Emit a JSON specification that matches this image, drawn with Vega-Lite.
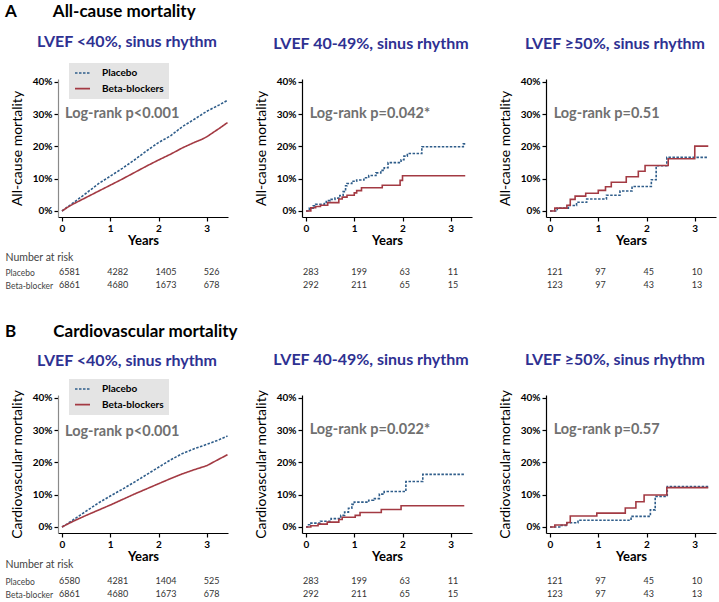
{
  "$schema": "https://vega.github.io/schema/vega-lite/v6.json",
  "padding": {"left": 5, "top": 3, "right": 2, "bottom": 0},
  "spacing": 31,
  "resolve": {"scale": {"color": "independent", "strokeDash": "independent"}, "legend": {"color": "independent", "strokeDash": "independent"}},
  "datasets": {
    "km": [
      {"panel":"A1","group":"Placebo","t":0,"p":0},{"panel":"A1","group":"Placebo","t":0.1,"p":0.011},{"panel":"A1","group":"Placebo","t":0.25,"p":0.027},{"panel":"A1","group":"Placebo","t":0.5,"p":0.055},{"panel":"A1","group":"Placebo","t":0.75,"p":0.084},{"panel":"A1","group":"Placebo","t":1,"p":0.108},{"panel":"A1","group":"Placebo","t":1.25,"p":0.132},{"panel":"A1","group":"Placebo","t":1.5,"p":0.158},{"panel":"A1","group":"Placebo","t":1.75,"p":0.186},{"panel":"A1","group":"Placebo","t":2,"p":0.212},{"panel":"A1","group":"Placebo","t":2.25,"p":0.233},{"panel":"A1","group":"Placebo","t":2.5,"p":0.262},{"panel":"A1","group":"Placebo","t":2.75,"p":0.285},{"panel":"A1","group":"Placebo","t":3,"p":0.309},{"panel":"A1","group":"Placebo","t":3.25,"p":0.328},{"panel":"A1","group":"Placebo","t":3.43,"p":0.343},
      {"panel":"A1","group":"Beta-blockers","t":0,"p":0},{"panel":"A1","group":"Beta-blockers","t":0.1,"p":0.01},{"panel":"A1","group":"Beta-blockers","t":0.25,"p":0.023},{"panel":"A1","group":"Beta-blockers","t":0.5,"p":0.042},{"panel":"A1","group":"Beta-blockers","t":0.75,"p":0.061},{"panel":"A1","group":"Beta-blockers","t":1,"p":0.08},{"panel":"A1","group":"Beta-blockers","t":1.25,"p":0.099},{"panel":"A1","group":"Beta-blockers","t":1.5,"p":0.119},{"panel":"A1","group":"Beta-blockers","t":1.75,"p":0.139},{"panel":"A1","group":"Beta-blockers","t":2,"p":0.158},{"panel":"A1","group":"Beta-blockers","t":2.25,"p":0.176},{"panel":"A1","group":"Beta-blockers","t":2.5,"p":0.196},{"panel":"A1","group":"Beta-blockers","t":2.75,"p":0.213},{"panel":"A1","group":"Beta-blockers","t":2.9,"p":0.222},{"panel":"A1","group":"Beta-blockers","t":3,"p":0.23},{"panel":"A1","group":"Beta-blockers","t":3.25,"p":0.255},{"panel":"A1","group":"Beta-blockers","t":3.43,"p":0.274},
      {"panel":"A2","group":"Placebo","t":0,"p":0},{"panel":"A2","group":"Placebo","t":0.07,"p":0.009},{"panel":"A2","group":"Placebo","t":0.15,"p":0.016},{"panel":"A2","group":"Placebo","t":0.2,"p":0.021},{"panel":"A2","group":"Placebo","t":0.38,"p":0.023},{"panel":"A2","group":"Placebo","t":0.42,"p":0.032},{"panel":"A2","group":"Placebo","t":0.5,"p":0.036},{"panel":"A2","group":"Placebo","t":0.6,"p":0.04},{"panel":"A2","group":"Placebo","t":0.7,"p":0.048},{"panel":"A2","group":"Placebo","t":0.77,"p":0.06},{"panel":"A2","group":"Placebo","t":0.82,"p":0.078},{"panel":"A2","group":"Placebo","t":0.85,"p":0.085},{"panel":"A2","group":"Placebo","t":0.95,"p":0.092},{"panel":"A2","group":"Placebo","t":1.05,"p":0.096},{"panel":"A2","group":"Placebo","t":1.2,"p":0.103},{"panel":"A2","group":"Placebo","t":1.3,"p":0.11},{"panel":"A2","group":"Placebo","t":1.45,"p":0.118},{"panel":"A2","group":"Placebo","t":1.55,"p":0.126},{"panel":"A2","group":"Placebo","t":1.62,"p":0.134},{"panel":"A2","group":"Placebo","t":1.7,"p":0.15},{"panel":"A2","group":"Placebo","t":1.97,"p":0.159},{"panel":"A2","group":"Placebo","t":2.03,"p":0.17},{"panel":"A2","group":"Placebo","t":2.1,"p":0.178},{"panel":"A2","group":"Placebo","t":2.4,"p":0.199},{"panel":"A2","group":"Placebo","t":3.26,"p":0.208},{"panel":"A2","group":"Placebo","t":3.3,"p":0.208},
      {"panel":"A2","group":"Beta-blockers","t":0,"p":0},{"panel":"A2","group":"Beta-blockers","t":0.1,"p":0.01},{"panel":"A2","group":"Beta-blockers","t":0.2,"p":0.014},{"panel":"A2","group":"Beta-blockers","t":0.3,"p":0.018},{"panel":"A2","group":"Beta-blockers","t":0.45,"p":0.026},{"panel":"A2","group":"Beta-blockers","t":0.68,"p":0.037},{"panel":"A2","group":"Beta-blockers","t":0.75,"p":0.043},{"panel":"A2","group":"Beta-blockers","t":0.85,"p":0.049},{"panel":"A2","group":"Beta-blockers","t":1,"p":0.056},{"panel":"A2","group":"Beta-blockers","t":1.05,"p":0.063},{"panel":"A2","group":"Beta-blockers","t":1.15,"p":0.072},{"panel":"A2","group":"Beta-blockers","t":1.58,"p":0.08},{"panel":"A2","group":"Beta-blockers","t":1.95,"p":0.095},{"panel":"A2","group":"Beta-blockers","t":2,"p":0.109},{"panel":"A2","group":"Beta-blockers","t":3.3,"p":0.109},
      {"panel":"A3","group":"Placebo","t":0,"p":0},{"panel":"A3","group":"Placebo","t":0.15,"p":0.009},{"panel":"A3","group":"Placebo","t":0.38,"p":0.017},{"panel":"A3","group":"Placebo","t":0.55,"p":0.027},{"panel":"A3","group":"Placebo","t":0.76,"p":0.037},{"panel":"A3","group":"Placebo","t":1.17,"p":0.049},{"panel":"A3","group":"Placebo","t":1.45,"p":0.062},{"panel":"A3","group":"Placebo","t":1.7,"p":0.076},{"panel":"A3","group":"Placebo","t":2.1,"p":0.097},{"panel":"A3","group":"Placebo","t":2.2,"p":0.14},{"panel":"A3","group":"Placebo","t":2.42,"p":0.166},{"panel":"A3","group":"Placebo","t":3.28,"p":0.166},
      {"panel":"A3","group":"Beta-blockers","t":0,"p":0},{"panel":"A3","group":"Beta-blockers","t":0.1,"p":0.009},{"panel":"A3","group":"Beta-blockers","t":0.35,"p":0.018},{"panel":"A3","group":"Beta-blockers","t":0.42,"p":0.036},{"panel":"A3","group":"Beta-blockers","t":0.52,"p":0.046},{"panel":"A3","group":"Beta-blockers","t":0.74,"p":0.055},{"panel":"A3","group":"Beta-blockers","t":1,"p":0.064},{"panel":"A3","group":"Beta-blockers","t":1.15,"p":0.075},{"panel":"A3","group":"Beta-blockers","t":1.27,"p":0.089},{"panel":"A3","group":"Beta-blockers","t":1.58,"p":0.106},{"panel":"A3","group":"Beta-blockers","t":1.83,"p":0.123},{"panel":"A3","group":"Beta-blockers","t":1.97,"p":0.141},{"panel":"A3","group":"Beta-blockers","t":2.45,"p":0.162},{"panel":"A3","group":"Beta-blockers","t":3,"p":0.201},{"panel":"A3","group":"Beta-blockers","t":3.28,"p":0.201},
      {"panel":"B1","group":"Placebo","t":0,"p":0},{"panel":"B1","group":"Placebo","t":0.1,"p":0.009},{"panel":"B1","group":"Placebo","t":0.25,"p":0.024},{"panel":"B1","group":"Placebo","t":0.5,"p":0.049},{"panel":"B1","group":"Placebo","t":0.75,"p":0.074},{"panel":"B1","group":"Placebo","t":1,"p":0.096},{"panel":"B1","group":"Placebo","t":1.25,"p":0.117},{"panel":"B1","group":"Placebo","t":1.5,"p":0.139},{"panel":"B1","group":"Placebo","t":1.75,"p":0.162},{"panel":"B1","group":"Placebo","t":2,"p":0.185},{"panel":"B1","group":"Placebo","t":2.25,"p":0.208},{"panel":"B1","group":"Placebo","t":2.5,"p":0.228},{"panel":"B1","group":"Placebo","t":2.75,"p":0.243},{"panel":"B1","group":"Placebo","t":3,"p":0.256},{"panel":"B1","group":"Placebo","t":3.25,"p":0.27},{"panel":"B1","group":"Placebo","t":3.43,"p":0.282},
      {"panel":"B1","group":"Beta-blockers","t":0,"p":0},{"panel":"B1","group":"Beta-blockers","t":0.1,"p":0.008},{"panel":"B1","group":"Beta-blockers","t":0.25,"p":0.019},{"panel":"B1","group":"Beta-blockers","t":0.5,"p":0.036},{"panel":"B1","group":"Beta-blockers","t":0.75,"p":0.052},{"panel":"B1","group":"Beta-blockers","t":1,"p":0.068},{"panel":"B1","group":"Beta-blockers","t":1.25,"p":0.085},{"panel":"B1","group":"Beta-blockers","t":1.5,"p":0.102},{"panel":"B1","group":"Beta-blockers","t":1.75,"p":0.118},{"panel":"B1","group":"Beta-blockers","t":2,"p":0.134},{"panel":"B1","group":"Beta-blockers","t":2.25,"p":0.15},{"panel":"B1","group":"Beta-blockers","t":2.5,"p":0.165},{"panel":"B1","group":"Beta-blockers","t":2.75,"p":0.178},{"panel":"B1","group":"Beta-blockers","t":3,"p":0.19},{"panel":"B1","group":"Beta-blockers","t":3.25,"p":0.21},{"panel":"B1","group":"Beta-blockers","t":3.43,"p":0.224},
      {"panel":"B2","group":"Placebo","t":0,"p":0},{"panel":"B2","group":"Placebo","t":0.03,"p":0.007},{"panel":"B2","group":"Placebo","t":0.08,"p":0.012},{"panel":"B2","group":"Placebo","t":0.3,"p":0.018},{"panel":"B2","group":"Placebo","t":0.52,"p":0.026},{"panel":"B2","group":"Placebo","t":0.72,"p":0.036},{"panel":"B2","group":"Placebo","t":0.8,"p":0.046},{"panel":"B2","group":"Placebo","t":0.88,"p":0.058},{"panel":"B2","group":"Placebo","t":0.95,"p":0.07},{"panel":"B2","group":"Placebo","t":1,"p":0.077},{"panel":"B2","group":"Placebo","t":1.3,"p":0.083},{"panel":"B2","group":"Placebo","t":1.4,"p":0.088},{"panel":"B2","group":"Placebo","t":1.52,"p":0.102},{"panel":"B2","group":"Placebo","t":1.62,"p":0.11},{"panel":"B2","group":"Placebo","t":2.07,"p":0.141},{"panel":"B2","group":"Placebo","t":2.42,"p":0.163},{"panel":"B2","group":"Placebo","t":3.28,"p":0.163},
      {"panel":"B2","group":"Beta-blockers","t":0,"p":0},{"panel":"B2","group":"Beta-blockers","t":0.1,"p":0.004},{"panel":"B2","group":"Beta-blockers","t":0.25,"p":0.009},{"panel":"B2","group":"Beta-blockers","t":0.44,"p":0.015},{"panel":"B2","group":"Beta-blockers","t":0.68,"p":0.023},{"panel":"B2","group":"Beta-blockers","t":0.75,"p":0.03},{"panel":"B2","group":"Beta-blockers","t":1.02,"p":0.036},{"panel":"B2","group":"Beta-blockers","t":1.12,"p":0.045},{"panel":"B2","group":"Beta-blockers","t":1.56,"p":0.054},{"panel":"B2","group":"Beta-blockers","t":1.97,"p":0.066},{"panel":"B2","group":"Beta-blockers","t":3.28,"p":0.066},
      {"panel":"B3","group":"Placebo","t":0,"p":0},{"panel":"B3","group":"Placebo","t":0.2,"p":0.005},{"panel":"B3","group":"Placebo","t":0.35,"p":0.013},{"panel":"B3","group":"Placebo","t":0.58,"p":0.021},{"panel":"B3","group":"Placebo","t":1.68,"p":0.033},{"panel":"B3","group":"Placebo","t":2.08,"p":0.053},{"panel":"B3","group":"Placebo","t":2.18,"p":0.095},{"panel":"B3","group":"Placebo","t":2.43,"p":0.125},{"panel":"B3","group":"Placebo","t":3.28,"p":0.125},
      {"panel":"B3","group":"Beta-blockers","t":0,"p":0},{"panel":"B3","group":"Beta-blockers","t":0.1,"p":0.006},{"panel":"B3","group":"Beta-blockers","t":0.35,"p":0.014},{"panel":"B3","group":"Beta-blockers","t":0.42,"p":0.034},{"panel":"B3","group":"Beta-blockers","t":0.97,"p":0.043},{"panel":"B3","group":"Beta-blockers","t":1.56,"p":0.059},{"panel":"B3","group":"Beta-blockers","t":1.78,"p":0.078},{"panel":"B3","group":"Beta-blockers","t":1.95,"p":0.099},{"panel":"B3","group":"Beta-blockers","t":2.42,"p":0.122},{"panel":"B3","group":"Beta-blockers","t":3.28,"p":0.122}
    ],
    "risk": [
      {"panel":"A1","group":"Placebo","t":0,"n":6581},{"panel":"A1","group":"Placebo","t":1,"n":4282},{"panel":"A1","group":"Placebo","t":2,"n":1405},{"panel":"A1","group":"Placebo","t":3,"n":526},
      {"panel":"A1","group":"Beta-blocker","t":0,"n":6861},{"panel":"A1","group":"Beta-blocker","t":1,"n":4680},{"panel":"A1","group":"Beta-blocker","t":2,"n":1673},{"panel":"A1","group":"Beta-blocker","t":3,"n":678},
      {"panel":"A2","group":"Placebo","t":0,"n":283},{"panel":"A2","group":"Placebo","t":1,"n":199},{"panel":"A2","group":"Placebo","t":2,"n":63},{"panel":"A2","group":"Placebo","t":3,"n":11},
      {"panel":"A2","group":"Beta-blocker","t":0,"n":292},{"panel":"A2","group":"Beta-blocker","t":1,"n":211},{"panel":"A2","group":"Beta-blocker","t":2,"n":65},{"panel":"A2","group":"Beta-blocker","t":3,"n":15},
      {"panel":"A3","group":"Placebo","t":0,"n":121},{"panel":"A3","group":"Placebo","t":1,"n":97},{"panel":"A3","group":"Placebo","t":2,"n":45},{"panel":"A3","group":"Placebo","t":3,"n":10},
      {"panel":"A3","group":"Beta-blocker","t":0,"n":123},{"panel":"A3","group":"Beta-blocker","t":1,"n":97},{"panel":"A3","group":"Beta-blocker","t":2,"n":43},{"panel":"A3","group":"Beta-blocker","t":3,"n":13},
      {"panel":"B1","group":"Placebo","t":0,"n":6580},{"panel":"B1","group":"Placebo","t":1,"n":4281},{"panel":"B1","group":"Placebo","t":2,"n":1404},{"panel":"B1","group":"Placebo","t":3,"n":525},
      {"panel":"B1","group":"Beta-blocker","t":0,"n":6861},{"panel":"B1","group":"Beta-blocker","t":1,"n":4680},{"panel":"B1","group":"Beta-blocker","t":2,"n":1673},{"panel":"B1","group":"Beta-blocker","t":3,"n":678},
      {"panel":"B2","group":"Placebo","t":0,"n":283},{"panel":"B2","group":"Placebo","t":1,"n":199},{"panel":"B2","group":"Placebo","t":2,"n":63},{"panel":"B2","group":"Placebo","t":3,"n":11},
      {"panel":"B2","group":"Beta-blocker","t":0,"n":292},{"panel":"B2","group":"Beta-blocker","t":1,"n":211},{"panel":"B2","group":"Beta-blocker","t":2,"n":65},{"panel":"B2","group":"Beta-blocker","t":3,"n":15},
      {"panel":"B3","group":"Placebo","t":0,"n":121},{"panel":"B3","group":"Placebo","t":1,"n":97},{"panel":"B3","group":"Placebo","t":2,"n":45},{"panel":"B3","group":"Placebo","t":3,"n":10},
      {"panel":"B3","group":"Beta-blocker","t":0,"n":123},{"panel":"B3","group":"Beta-blocker","t":1,"n":97},{"panel":"B3","group":"Beta-blocker","t":2,"n":43},{"panel":"B3","group":"Beta-blocker","t":3,"n":13}
    ]
  },
  "vconcat": [
    {
      "title": {"text": "A\u00a0\u00a0\u00a0\u00a0\u00a0\u00a0\u00a0\u00a0\u00a0All-cause mortality", "anchor": "start", "frame": "bounds", "font": "Lato", "fontSize": 17, "fontWeight": "bold", "color": "#000000", "offset": 13, "dx": 0},
      "columns": 3,
      "bounds": "flush",
      "spacing": {"row": 48.5, "column": 74},
      "resolve": {"scale": {"color": "independent", "strokeDash": "independent"}, "legend": {"color": "independent", "strokeDash": "independent"}},
      "concat": [
        {
          "width": 170, "height": 138,
          "title": {"text": "LVEF <40%, sinus rhythm", "offset": 13},
          "layer": [
            {
              "data": {"name": "km"},
              "transform": [{"filter": "datum.panel == 'A1'"}],
              "mark": {"type": "line", "interpolate": "linear", "strokeWidth": 1.6},
              "encoding": {
                "x": {"field": "t", "type": "quantitative", "scale": {"domain": [-0.083, 3.44], "nice": false, "zero": false}, "axis": {"values": [0, 1, 2, 3], "format": "d", "title": "Years"}},
                "y": {"field": "p", "type": "quantitative", "scale": {"domain": [-0.0186, 0.409], "nice": false, "zero": false}, "axis": {"values": [0, 0.1, 0.2, 0.3, 0.4], "tickCount": 10, "format": ".0%", "title": "All-cause mortality", "domainColor": "#8a8a8a"}},
                "color": {"field": "group", "type": "nominal", "scale": {"domain": ["Placebo", "Beta-blockers"], "range": ["#2f5d8a", "#a33a43"]}, "legend": {"orient": "none", "legendX": 11, "legendY": -16, "title": null, "fillColor": "#e4e4e4", "padding": 5, "symbolType": "stroke", "symbolSize": 225, "symbolStrokeWidth": 1.6, "clipHeight": 10, "rowPadding": 5.6, "labelOffset": 11, "labelFont": "Lato", "labelFontWeight": "bold", "labelFontSize": 10, "labelColor": "#000000"}},
                "strokeDash": {"field": "group", "type": "nominal", "scale": {"domain": ["Placebo", "Beta-blockers"], "range": [[2.5, 1.5], [1, 0]]}, "legend": {"orient": "none", "legendX": 11, "legendY": -16, "title": null, "fillColor": "#e4e4e4", "padding": 5, "symbolType": "stroke", "symbolSize": 225, "symbolStrokeWidth": 1.6, "clipHeight": 10, "rowPadding": 5.6, "labelOffset": 11, "labelFont": "Lato", "labelFontWeight": "bold", "labelFontSize": 10, "labelColor": "#000000"}}
              }
            },
            {
              "data": {"values": [{"label": "Log-rank p<0.001"}]},
              "mark": {"type": "text", "align": "left", "baseline": "middle", "font": "Lato", "fontWeight": "bold", "fontSize": 14.5, "color": "#707070"},
              "encoding": {"x": {"datum": 0.062}, "y": {"datum": 0.3}, "text": {"field": "label"}}
            }
          ]
        },
        {
          "width": 170, "height": 138,
          "title": {"text": "LVEF 40-49%, sinus rhythm", "offset": 25},
          "layer": [
            {
              "data": {"name": "km"},
              "transform": [{"filter": "datum.panel == 'A2'"}],
              "mark": {"type": "line", "interpolate": "step-after", "strokeWidth": 1.6},
              "encoding": {
                "x": {"field": "t", "type": "quantitative", "scale": {"domain": [-0.083, 3.44], "nice": false, "zero": false}, "axis": {"values": [0, 1, 2, 3], "format": "d", "title": "Years"}},
                "y": {"field": "p", "type": "quantitative", "scale": {"domain": [-0.0186, 0.409], "nice": false, "zero": false}, "axis": {"values": [0, 0.1, 0.2, 0.3, 0.4], "tickCount": 10, "format": ".0%", "title": "All-cause mortality"}},
                "color": {"field": "group", "type": "nominal", "scale": {"domain": ["Placebo", "Beta-blockers"], "range": ["#2f5d8a", "#a33a43"]}, "legend": null},
                "strokeDash": {"field": "group", "type": "nominal", "scale": {"domain": ["Placebo", "Beta-blockers"], "range": [[2.5, 1.5], [1, 0]]}, "legend": null}
              }
            },
            {
              "data": {"values": [{"label": "Log-rank p=0.042*"}]},
              "mark": {"type": "text", "align": "left", "baseline": "middle", "font": "Lato", "fontWeight": "bold", "fontSize": 14.5, "color": "#707070"},
              "encoding": {"x": {"datum": 0.076}, "y": {"datum": 0.3}, "text": {"field": "label"}}
            }
          ]
        },
        {
          "width": 170, "height": 138,
          "title": {"text": "LVEF ≥50%, sinus rhythm", "offset": 25},
          "layer": [
            {
              "data": {"name": "km"},
              "transform": [{"filter": "datum.panel == 'A3'"}],
              "mark": {"type": "line", "interpolate": "step-after", "strokeWidth": 1.6},
              "encoding": {
                "x": {"field": "t", "type": "quantitative", "scale": {"domain": [-0.083, 3.44], "nice": false, "zero": false}, "axis": {"values": [0, 1, 2, 3], "format": "d", "title": "Years"}},
                "y": {"field": "p", "type": "quantitative", "scale": {"domain": [-0.0186, 0.409], "nice": false, "zero": false}, "axis": {"values": [0, 0.1, 0.2, 0.3, 0.4], "tickCount": 10, "format": ".0%", "title": "All-cause mortality"}},
                "color": {"field": "group", "type": "nominal", "scale": {"domain": ["Placebo", "Beta-blockers"], "range": ["#2f5d8a", "#a33a43"]}, "legend": null},
                "strokeDash": {"field": "group", "type": "nominal", "scale": {"domain": ["Placebo", "Beta-blockers"], "range": [[2.5, 1.5], [1, 0]]}, "legend": null}
              }
            },
            {
              "data": {"values": [{"label": "Log-rank p=0.51"}]},
              "mark": {"type": "text", "align": "left", "baseline": "middle", "font": "Lato", "fontWeight": "bold", "fontSize": 14.5, "color": "#707070"},
              "encoding": {"x": {"datum": 0.076}, "y": {"datum": 0.3}, "text": {"field": "label"}}
            }
          ]
        },
        {
          "width": 170, "height": 26,
          "data": {"name": "risk"},
          "transform": [{"filter": "datum.panel == 'A1'"}],
          "mark": {"type": "text", "align": "left", "baseline": "middle", "dx": -3, "font": "Lato", "fontSize": 9, "color": "#333333"},
          "encoding": {
            "x": {"field": "t", "type": "quantitative", "scale": {"domain": [-0.083, 3.44], "nice": false, "zero": false}, "axis": null},
            "y": {"field": "group", "type": "nominal", "scale": {"type": "point", "domain": ["Placebo", "Beta-blocker"], "padding": 0.5}, "axis": {"title": "Number at risk", "titleAngle": 0, "titleAlign": "left", "titleBaseline": "middle", "titleX": -53, "titleY": -8.5, "titleFont": "Lato", "titleFontSize": 10.5, "titleFontWeight": "normal", "titleColor": "#444444", "labelAlign": "left", "labelPadding": 53, "labelFont": "Lato", "labelFontWeight": "normal", "labelFontSize": 8.5, "labelColor": "#444444", "domain": false, "ticks": false, "tickSize": 0}},
            "text": {"field": "n", "type": "quantitative", "format": "d"}
          }
        },
        {
          "width": 170, "height": 26,
          "data": {"name": "risk"},
          "transform": [{"filter": "datum.panel == 'A2'"}],
          "mark": {"type": "text", "align": "left", "baseline": "middle", "dx": -3, "font": "Lato", "fontSize": 9, "color": "#333333"},
          "encoding": {
            "x": {"field": "t", "type": "quantitative", "scale": {"domain": [-0.083, 3.44], "nice": false, "zero": false}, "axis": null},
            "y": {"field": "group", "type": "nominal", "scale": {"type": "point", "domain": ["Placebo", "Beta-blocker"], "padding": 0.5}, "axis": null},
            "text": {"field": "n", "type": "quantitative", "format": "d"}
          }
        },
        {
          "width": 170, "height": 26,
          "data": {"name": "risk"},
          "transform": [{"filter": "datum.panel == 'A3'"}],
          "mark": {"type": "text", "align": "left", "baseline": "middle", "dx": -3, "font": "Lato", "fontSize": 9, "color": "#333333"},
          "encoding": {
            "x": {"field": "t", "type": "quantitative", "scale": {"domain": [-0.083, 3.44], "nice": false, "zero": false}, "axis": null},
            "y": {"field": "group", "type": "nominal", "scale": {"type": "point", "domain": ["Placebo", "Beta-blocker"], "padding": 0.5}, "axis": null},
            "text": {"field": "n", "type": "quantitative", "format": "d"}
          }
        }
      ]
    },
    {
      "title": {"text": "B\u00a0\u00a0\u00a0\u00a0\u00a0\u00a0\u00a0\u00a0\u00a0Cardiovascular mortality", "anchor": "start", "frame": "bounds", "font": "Lato", "fontSize": 17, "fontWeight": "bold", "color": "#000000", "offset": 11, "dx": 0},
      "columns": 3,
      "bounds": "flush",
      "spacing": {"row": 41.5, "column": 74},
      "resolve": {"scale": {"color": "independent", "strokeDash": "independent"}, "legend": {"color": "independent", "strokeDash": "independent"}},
      "concat": [
        {
          "width": 170, "height": 138,
          "title": {"text": "LVEF <40%, sinus rhythm", "offset": 10},
          "layer": [
            {
              "data": {"name": "km"},
              "transform": [{"filter": "datum.panel == 'B1'"}],
              "mark": {"type": "line", "interpolate": "linear", "strokeWidth": 1.6},
              "encoding": {
                "x": {"field": "t", "type": "quantitative", "scale": {"domain": [-0.083, 3.44], "nice": false, "zero": false}, "axis": {"values": [0, 1, 2, 3], "format": "d", "title": "Years"}},
                "y": {"field": "p", "type": "quantitative", "scale": {"domain": [-0.0186, 0.409], "nice": false, "zero": false}, "axis": {"values": [0, 0.1, 0.2, 0.3, 0.4], "tickCount": 10, "format": ".0%", "title": "Cardiovascular mortality", "domainColor": "#8a8a8a"}},
                "color": {"field": "group", "type": "nominal", "scale": {"domain": ["Placebo", "Beta-blockers"], "range": ["#2f5d8a", "#a33a43"]}, "legend": {"orient": "none", "legendX": 11, "legendY": -16, "title": null, "fillColor": "#e4e4e4", "padding": 5, "symbolType": "stroke", "symbolSize": 225, "symbolStrokeWidth": 1.6, "clipHeight": 10, "rowPadding": 5.6, "labelOffset": 11, "labelFont": "Lato", "labelFontWeight": "bold", "labelFontSize": 10, "labelColor": "#000000"}},
                "strokeDash": {"field": "group", "type": "nominal", "scale": {"domain": ["Placebo", "Beta-blockers"], "range": [[2.5, 1.5], [1, 0]]}, "legend": {"orient": "none", "legendX": 11, "legendY": -16, "title": null, "fillColor": "#e4e4e4", "padding": 5, "symbolType": "stroke", "symbolSize": 225, "symbolStrokeWidth": 1.6, "clipHeight": 10, "rowPadding": 5.6, "labelOffset": 11, "labelFont": "Lato", "labelFontWeight": "bold", "labelFontSize": 10, "labelColor": "#000000"}}
              }
            },
            {
              "data": {"values": [{"label": "Log-rank p<0.001"}]},
              "mark": {"type": "text", "align": "left", "baseline": "middle", "font": "Lato", "fontWeight": "bold", "fontSize": 14.5, "color": "#707070"},
              "encoding": {"x": {"datum": 0.062}, "y": {"datum": 0.293}, "text": {"field": "label"}}
            }
          ]
        },
        {
          "width": 170, "height": 138,
          "title": {"text": "LVEF 40-49%, sinus rhythm", "offset": 21},
          "layer": [
            {
              "data": {"name": "km"},
              "transform": [{"filter": "datum.panel == 'B2'"}],
              "mark": {"type": "line", "interpolate": "step-after", "strokeWidth": 1.6},
              "encoding": {
                "x": {"field": "t", "type": "quantitative", "scale": {"domain": [-0.083, 3.44], "nice": false, "zero": false}, "axis": {"values": [0, 1, 2, 3], "format": "d", "title": "Years"}},
                "y": {"field": "p", "type": "quantitative", "scale": {"domain": [-0.0186, 0.409], "nice": false, "zero": false}, "axis": {"values": [0, 0.1, 0.2, 0.3, 0.4], "tickCount": 10, "format": ".0%", "title": "Cardiovascular mortality"}},
                "color": {"field": "group", "type": "nominal", "scale": {"domain": ["Placebo", "Beta-blockers"], "range": ["#2f5d8a", "#a33a43"]}, "legend": null},
                "strokeDash": {"field": "group", "type": "nominal", "scale": {"domain": ["Placebo", "Beta-blockers"], "range": [[2.5, 1.5], [1, 0]]}, "legend": null}
              }
            },
            {
              "data": {"values": [{"label": "Log-rank p=0.022*"}]},
              "mark": {"type": "text", "align": "left", "baseline": "middle", "font": "Lato", "fontWeight": "bold", "fontSize": 14.5, "color": "#707070"},
              "encoding": {"x": {"datum": 0.076}, "y": {"datum": 0.3}, "text": {"field": "label"}}
            }
          ]
        },
        {
          "width": 170, "height": 138,
          "title": {"text": "LVEF ≥50%, sinus rhythm", "offset": 21},
          "layer": [
            {
              "data": {"name": "km"},
              "transform": [{"filter": "datum.panel == 'B3'"}],
              "mark": {"type": "line", "interpolate": "step-after", "strokeWidth": 1.6},
              "encoding": {
                "x": {"field": "t", "type": "quantitative", "scale": {"domain": [-0.083, 3.44], "nice": false, "zero": false}, "axis": {"values": [0, 1, 2, 3], "format": "d", "title": "Years"}},
                "y": {"field": "p", "type": "quantitative", "scale": {"domain": [-0.0186, 0.409], "nice": false, "zero": false}, "axis": {"values": [0, 0.1, 0.2, 0.3, 0.4], "tickCount": 10, "format": ".0%", "title": "Cardiovascular mortality"}},
                "color": {"field": "group", "type": "nominal", "scale": {"domain": ["Placebo", "Beta-blockers"], "range": ["#2f5d8a", "#a33a43"]}, "legend": null},
                "strokeDash": {"field": "group", "type": "nominal", "scale": {"domain": ["Placebo", "Beta-blockers"], "range": [[2.5, 1.5], [1, 0]]}, "legend": null}
              }
            },
            {
              "data": {"values": [{"label": "Log-rank p=0.57"}]},
              "mark": {"type": "text", "align": "left", "baseline": "middle", "font": "Lato", "fontWeight": "bold", "fontSize": 14.5, "color": "#707070"},
              "encoding": {"x": {"datum": 0.076}, "y": {"datum": 0.3}, "text": {"field": "label"}}
            }
          ]
        },
        {
          "width": 170, "height": 26,
          "data": {"name": "risk"},
          "transform": [{"filter": "datum.panel == 'B1'"}],
          "mark": {"type": "text", "align": "left", "baseline": "middle", "dx": -3, "font": "Lato", "fontSize": 9, "color": "#333333"},
          "encoding": {
            "x": {"field": "t", "type": "quantitative", "scale": {"domain": [-0.083, 3.44], "nice": false, "zero": false}, "axis": null},
            "y": {"field": "group", "type": "nominal", "scale": {"type": "point", "domain": ["Placebo", "Beta-blocker"], "padding": 0.5}, "axis": {"title": "Number at risk", "titleAngle": 0, "titleAlign": "left", "titleBaseline": "middle", "titleX": -53, "titleY": -10.5, "titleFont": "Lato", "titleFontSize": 10.5, "titleFontWeight": "normal", "titleColor": "#444444", "labelAlign": "left", "labelPadding": 53, "labelFont": "Lato", "labelFontWeight": "normal", "labelFontSize": 8.5, "labelColor": "#444444", "domain": false, "ticks": false, "tickSize": 0}},
            "text": {"field": "n", "type": "quantitative", "format": "d"}
          }
        },
        {
          "width": 170, "height": 26,
          "data": {"name": "risk"},
          "transform": [{"filter": "datum.panel == 'B2'"}],
          "mark": {"type": "text", "align": "left", "baseline": "middle", "dx": -3, "font": "Lato", "fontSize": 9, "color": "#333333"},
          "encoding": {
            "x": {"field": "t", "type": "quantitative", "scale": {"domain": [-0.083, 3.44], "nice": false, "zero": false}, "axis": null},
            "y": {"field": "group", "type": "nominal", "scale": {"type": "point", "domain": ["Placebo", "Beta-blocker"], "padding": 0.5}, "axis": null},
            "text": {"field": "n", "type": "quantitative", "format": "d"}
          }
        },
        {
          "width": 170, "height": 26,
          "data": {"name": "risk"},
          "transform": [{"filter": "datum.panel == 'B3'"}],
          "mark": {"type": "text", "align": "left", "baseline": "middle", "dx": -3, "font": "Lato", "fontSize": 9, "color": "#333333"},
          "encoding": {
            "x": {"field": "t", "type": "quantitative", "scale": {"domain": [-0.083, 3.44], "nice": false, "zero": false}, "axis": null},
            "y": {"field": "group", "type": "nominal", "scale": {"type": "point", "domain": ["Placebo", "Beta-blocker"], "padding": 0.5}, "axis": null},
            "text": {"field": "n", "type": "quantitative", "format": "d"}
          }
        }
      ]
    }
  ],
  "config": {
    "view": {"stroke": null},
    "font": "Lato",
    "axis": {"grid": false, "labelOverlap": false, "domainColor": "#000000", "tickColor": "#000000", "labelColor": "#000000", "titleColor": "#000000", "labelFont": "Lato", "titleFont": "Lato", "labelFontWeight": "bold", "labelFontSize": 10, "tickSize": 4, "labelPadding": 2, "domainWidth": 1.2, "tickWidth": 1.2},
    "axisX": {"titleFontSize": 13, "titleFontWeight": "bold", "titlePadding": 1},
    "axisY": {"titleFontSize": 14, "titleFontWeight": "normal", "titlePadding": 8},
    "title": {"font": "Lato", "fontWeight": "bold", "fontSize": 16, "color": "#2e3192", "offset": 25, "dx": -16, "frame": "group", "anchor": "middle"}
  }
}
